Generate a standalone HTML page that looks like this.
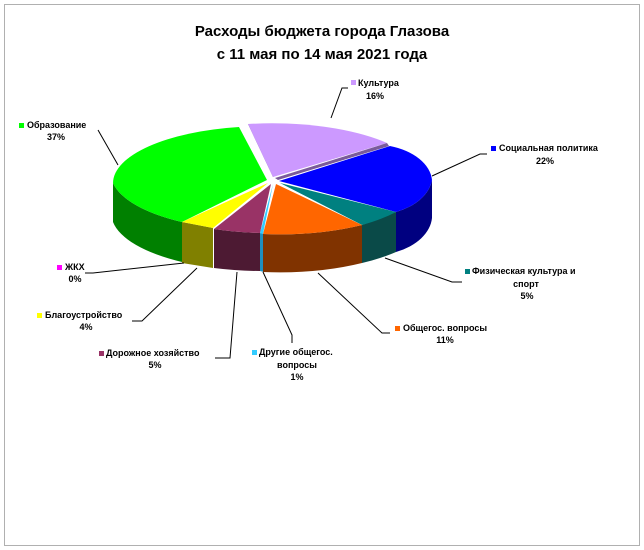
<!DOCTYPE html>
<html><head><meta charset="utf-8"><style>
body{margin:0;background:#fff}
svg{display:block}
text{font-family:"Liberation Sans",Arial,sans-serif;font-size:9px;font-weight:bold;fill:#000}
</style></head><body>
<svg width="644" height="550" viewBox="0 0 644 550" xmlns="http://www.w3.org/2000/svg">
<rect x="0" y="0" width="644" height="550" fill="#fff"/>
<rect x="4.5" y="4.5" width="635" height="541" fill="none" stroke="#b0b0b0" stroke-width="1"/>
<text x="322" y="36" text-anchor="middle" style="font-size:15px">Расходы бюджета города Глазова</text>
<text x="322" y="59" text-anchor="middle" style="font-size:15px">с 11 мая по 14 мая 2021 года</text>

<!-- sides -->
<path d="M113,183 L113,222 A150,57 0 0 0 182,262 L182,222 A150,57 0 0 1 113,183 Z" fill="#008000"/>
<path d="M182,222 L213,228 L213,268 L182,263 Z" fill="#808000"/>
<path d="M214,229 A150,56 0 0 0 260,233 L260,271 A150,56 0 0 1 214,268 Z" fill="#4d1a33"/>
<path d="M260,233 L264,234 L264,272 L260,271 Z" fill="#1e8fbf"/>
<path d="M263,234 A150,56 0 0 0 362,225 L362,263 A150,56 0 0 1 263,272 Z" fill="#803300"/>
<path d="M362,225 L396,212 L396,252 A155,56 0 0 1 362,263 Z" fill="#0a4a48"/>
<path d="M432,180 L432,218 A60,40 0 0 1 396,252 L396,212 A60,40 0 0 0 432,180 Z" fill="#000080"/>

<!-- tops -->
<path d="M267,180 L239,127 A150,57 0 0 0 113,183 A150,57 0 0 0 182,222 Z" fill="#00ff00"/>
<path d="M248,124 L255,126 L276,175 L273,177 Z" fill="#7a5a9a"/>
<path d="M273,177 L248,124 A150,55 0 0 1 387,143 Z" fill="#cc99ff"/>
<path d="M387,143 L389,146 L278,180 L275,178 Z" fill="#7a5a9a"/>
<path d="M279,181 L390,146 A60,38 0 0 1 432,180 A60,40 0 0 1 396,212 Z" fill="#0000ff"/>
<path d="M280,183 L396,212 A155,56 0 0 1 362,225 Z" fill="#008080"/>
<path d="M276,184 L362,225 A150,56 0 0 1 263,234 Z" fill="#ff6600"/>
<path d="M273,184 L263,234 L260,233 Z" fill="#33ccff"/>
<path d="M271,184 L260,233 A150,56 0 0 1 214,229 Z" fill="#993366"/>
<path d="M268,183 L213,228 L182,222 Z" fill="#ffff00"/>

<!-- leader lines -->
<g stroke="#000" stroke-width="1" fill="none">
<polyline points="348,88 342,88 331,118"/>
<polyline points="487,154 480,154 432,176"/>
<polyline points="385,258 452,282 462,282"/>
<polyline points="318,273 382,333 390,333"/>
<polyline points="263,272 292,335 292,343"/>
<polyline points="237,272 230,358 215,358"/>
<polyline points="197,268 142,321 132,321"/>
<polyline points="184,263 93,273 85,273"/>
<polyline points="118,165 98,130"/>
</g>

<!-- labels -->
<rect x="351" y="80" width="5" height="5" fill="#cc99ff"/>
<text x="358" y="86">Культура</text><text x="375" y="99" text-anchor="middle">16%</text>
<rect x="491" y="146" width="5" height="5" fill="#0000ff"/>
<text x="499" y="151">Социальная политика</text><text x="545" y="164" text-anchor="middle">22%</text>
<rect x="465" y="269" width="5" height="5" fill="#008080"/>
<text x="472" y="274">Физическая культура и</text>
<text x="526" y="287" text-anchor="middle">спорт</text><text x="527" y="299" text-anchor="middle">5%</text>
<rect x="395" y="326" width="5" height="5" fill="#ff6600"/>
<text x="403" y="331">Общегос. вопросы</text><text x="445" y="343" text-anchor="middle">11%</text>
<rect x="252" y="350" width="5" height="5" fill="#33ccff"/>
<text x="259" y="355">Другие общегос.</text>
<text x="297" y="368" text-anchor="middle">вопросы</text><text x="297" y="380" text-anchor="middle">1%</text>
<rect x="99" y="351" width="5" height="5" fill="#993366"/>
<text x="106" y="356">Дорожное хозяйство</text><text x="155" y="368" text-anchor="middle">5%</text>
<rect x="37" y="313" width="5" height="5" fill="#ffff00"/>
<text x="45" y="318">Благоустройство</text><text x="86" y="330" text-anchor="middle">4%</text>
<rect x="57" y="265" width="5" height="5" fill="#ff00ff"/>
<text x="65" y="270">ЖКХ</text><text x="75" y="282" text-anchor="middle">0%</text>
<rect x="19" y="123" width="5" height="5" fill="#00ff00"/>
<text x="27" y="128">Образование</text><text x="56" y="140" text-anchor="middle">37%</text>
</svg>
</body></html>
